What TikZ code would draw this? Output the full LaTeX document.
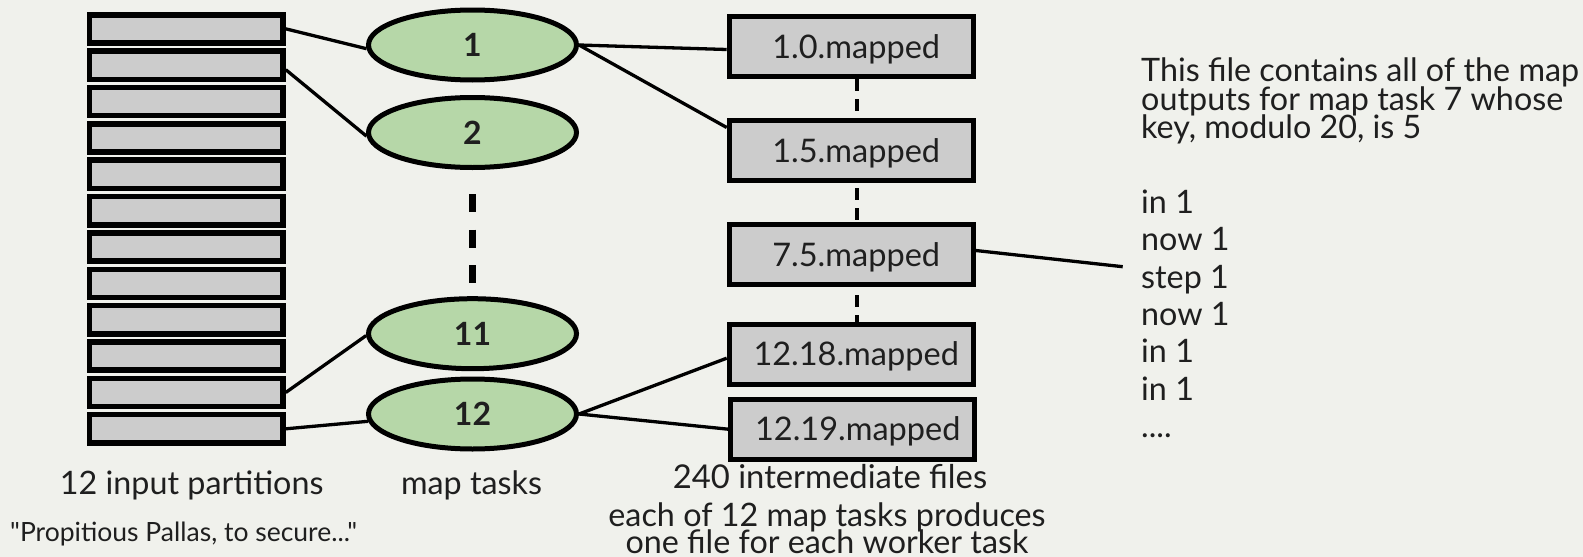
\documentclass[tikz,border=0pt]{standalone}
\usepackage{fontspec}
\setmainfont{Lato}
\newfontfamily\rawlato{Lato}[Ligatures=TeXOff]
\usetikzlibrary{shapes.geometric}
\definecolor{bg}{HTML}{F0F1EC}
\definecolor{boxgray}{HTML}{CCCCCC}
\definecolor{mapgreen}{HTML}{B6D7A8}
\definecolor{ink}{HTML}{1F1F1F}
\begin{document}
\begin{tikzpicture}[x=1pt,y=-1pt,
  part/.style={draw=black, fill=boxgray, line width=5.5pt, minimum width=193.5pt, minimum height=28.2pt, inner sep=0pt},
  task/.style={ellipse, draw=black, fill=mapgreen, line width=5pt, minimum width=208pt, minimum height=70pt, inner sep=0pt, text height=23.5pt, text depth=0pt, font=\bfseries\fontsize{32}{38}\selectfont, text=ink},
  filebox/.style={draw=black, fill=boxgray, line width=5pt, minimum width=244pt, minimum height=60pt, inner sep=0pt, text height=23pt, text depth=0pt, font=\fontsize{32.5}{38}\selectfont, text=ink},
  conn/.style={line width=3.3pt, draw=black},
  dots/.style={line width=7pt, draw=black, dash pattern=on 18pt off 17.5pt},
  fdots/.style={line width=4pt, draw=black, dash pattern=on 12pt off 8pt},
  lbl/.style={font=\fontsize{32.3}{37}\selectfont, text=ink, inner sep=0pt},
  biglbl/.style={font=\fontsize{32.8}{37}\selectfont, text=ink, inner sep=0pt},
  smalllbl/.style={font=\rawlato\fontsize{26.5}{31}\selectfont, text=ink, inner sep=0pt}
]
\path[use as bounding box, fill=bg] (0,0) rectangle (1583,557);

% input partitions
\foreach \i in {1,...,12}
  \node[part] (p\i) at (186.3, {28.85+36.36*(\i-1)}) {};

% map tasks
\node[task] (e1)  at (472.5, 45)    {1};
\node[task] (e2)  at (472.5, 132.5) {2};
\node[task] (e11) at (472.5, 333.7) {11};
\node[task] (e12) at (472.5, 414)   {12};

% mapped files
\node[filebox] (b10)   at (851.2, 46.5)  {\hspace*{10pt}1.0.mapped};
\node[filebox] (b15)   at (851.2, 150.5) {\hspace*{10pt}1.5.mapped};
\node[filebox] (b75)   at (851.2, 254.5) {\hspace*{10pt}7.5.mapped};
\node[filebox] (b1218) at (851.2, 354.2) {\hspace*{10pt}12.18.mapped};
\node[filebox] (b1219) at (852.8, 429.2) {\hspace*{10pt}12.19.mapped};

\coordinate (note) at (1122.7, 266.7);

% connectors
\draw[conn] (p1.east) -- (e1.182);
\draw[conn] ([yshift=-4.5pt]p2.east) -- (e2.182.4);
\draw[conn] (p11.east) -- (e11.181);
\draw[conn] (p12.east) -- (e12.184);
\draw[conn] (e1.east) -- ([yshift=-3pt]b10.west);
\draw[conn] (e1.east) -- ([yshift=23pt]b15.west);
\draw[conn] (e12.east) -- ([yshift=-4pt]b1218.west);
\draw[conn] (e12.east) -- (b1219.west);
\draw[conn] ([yshift=4pt]b75.east) -- (note);

% ellipsis dashes
\draw[dots] ([yshift=-24pt]e2.south) -- ([yshift=13pt]e11.north);
\draw[fdots] ([xshift=5.5pt]b10.south) -- ([xshift=5.5pt]b15.north);
\draw[fdots, dash phase=15pt] ([xshift=5.5pt]b15.south) -- ([xshift=5.5pt]b75.north);
\draw[fdots, dash phase=12pt] ([xshift=5.5pt]b75.south) -- ([xshift=5.5pt]b1218.north);

% labels
\node[lbl, anchor=base] (lp) at (191.7, 494) {12 input partitions};
\node[lbl, anchor=base] (lm) at (471.5, 494) {map tasks};
\node[smalllbl, anchor=base west] (lq) at (10, 541.7) {"Propitious Pallas, to secure..."};
\node[biglbl, anchor=base] (li) at (830, 488.3) {240 intermediate files};
\node[lbl, anchor=base] (le1) at (827, 526.7) {each of 12 map tasks produces};
\node[lbl, anchor=base] (le2) at (827, 553) {one file for each worker task};

% note text
\node[lbl, anchor=base west] (h1) at (1141, 81.7)  {This file contains all of the map};
\node[lbl, anchor=base west] (h2) at (1141, 110)   {outputs for map task 7 whose};
\node[lbl, anchor=base west] (h3) at (1141, 138.3) {key, modulo 20, is 5};
\node[lbl, anchor=base west] (k1) at (1141, 213.3) {in 1};
\node[lbl, anchor=base west] (k2) at (1141, 250.7) {now 1};
\node[lbl, anchor=base west] (k3) at (1141, 288.1) {step 1};
\node[lbl, anchor=base west] (k4) at (1141, 325.5) {now 1};
\node[lbl, anchor=base west] (k5) at (1141, 362.9) {in 1};
\node[lbl, anchor=base west] (k6) at (1141, 400.3) {in 1};
\node[lbl, anchor=base west] (k7) at (1141, 437.7) {....};
\end{tikzpicture}
\end{document}
